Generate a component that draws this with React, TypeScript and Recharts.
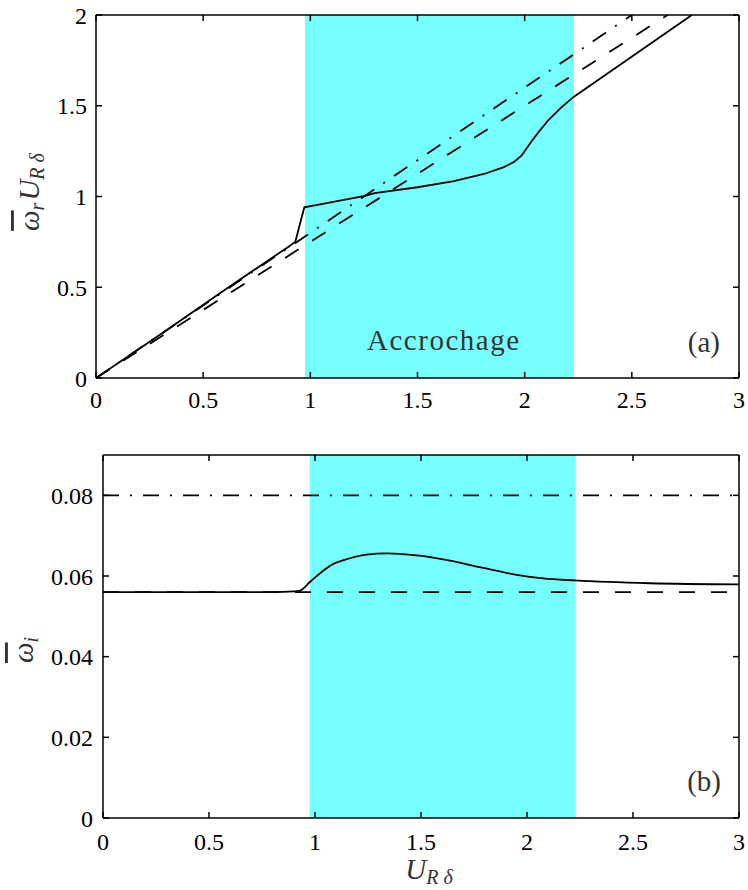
import React from 'react';
import { LineChart, Line, XAxis, YAxis, ReferenceArea } from 'recharts';

// U_Rdelta axis, shared by both panels
const xTicks = [0, 0.5, 1, 1.5, 2, 2.5, 3];
const freqTicks = [0, 0.5, 1, 1.5, 2];
const growthTicks = [0, 0.02, 0.04, 0.06, 0.08];
// lock-in ("Accrochage") band
const lockIn = [0.975, 2.23];

// (a) frequency, coupled model (solid)
const freqCoupled = [
  { u: 0, w: 0 },
  { u: 0.3, w: 0.24 },
  { u: 0.6, w: 0.485 },
  { u: 0.9, w: 0.725 },
  { u: 0.93, w: 0.751 },
  { u: 0.972, w: 0.94 },
  { u: 1.107, w: 0.971 },
  { u: 1.255, w: 1.003 },
  { u: 1.3, w: 1.018 },
  { u: 1.5, w: 1.051 },
  { u: 1.67, w: 1.085 },
  { u: 1.81, w: 1.124 },
  { u: 1.9, w: 1.16 },
  { u: 1.95, w: 1.19 },
  { u: 1.985, w: 1.225 },
  { u: 2.03, w: 1.3 },
  { u: 2.065, w: 1.355 },
  { u: 2.11, w: 1.42 },
  { u: 2.17, w: 1.49 },
  { u: 2.23, w: 1.55 },
  { u: 2.78, w: 2.0 },
];
// (a) uncoupled references
const freqDashed = [
  { u: 0, w: 0 },
  { u: 2.667, w: 2 },
];
const freqDashDot = [
  { u: 0, w: 0 },
  { u: 2.5, w: 2 },
];

// (b) growth rate, coupled model (solid)
const growthCoupled = [
  { u: 0, w: 0.056 },
  { u: 0.5, w: 0.056 },
  { u: 0.8, w: 0.056 },
  { u: 0.9, w: 0.0562 },
  { u: 0.929, w: 0.0564 },
  { u: 0.976, w: 0.0585 },
  { u: 1.024, w: 0.0607 },
  { u: 1.087, w: 0.063 },
  { u: 1.165, w: 0.0644 },
  { u: 1.244, w: 0.0653 },
  { u: 1.34, w: 0.0656 },
  { u: 1.48, w: 0.0651 },
  { u: 1.637, w: 0.0638 },
  { u: 1.794, w: 0.062 },
  { u: 1.951, w: 0.0603 },
  { u: 2.077, w: 0.0594 },
  { u: 2.226, w: 0.0589 },
  { u: 2.58, w: 0.0582 },
  { u: 3.0, w: 0.0579 },
];
const growthDashed = [
  { u: 0, w: 0.056 },
  { u: 3, w: 0.056 },
];
const growthDashDot = [
  { u: 0, w: 0.08 },
  { u: 3, w: 0.08 },
];

const SERIF = 'Liberation Serif';
const CYAN = '#76ffff';
const DASH = '16 16';
const DASHDOT = '16 11 2 11';

const tickFont = { fontSize: 24, fill: '#000', fontFamily: SERIF };

type Pt = { u: number; w: number };

interface PanelProps {
  solid: Pt[];
  solidCurve: 'linear' | 'monotone';
  dashed: Pt[];
  dashDot: Pt[];
  yDomain: [number, number];
  yTicks: number[];
  leftWidth: number;
  height: number;
  bottomMargin: number;
  xTickMargin: number;
  yTickMargin: number;
}

const Panel = ({ solid, solidCurve, dashed, dashDot, yDomain, yTicks, leftWidth, height, bottomMargin, xTickMargin, yTickMargin }: PanelProps) => (
  <LineChart width={748} height={height} margin={{ top: 14, right: 8, left: 0, bottom: bottomMargin }}>
    <XAxis
      xAxisId="b"
      type="number"
      dataKey="u"
      domain={[0, 3]}
      ticks={xTicks}
      allowDataOverflow
      height={40}
      tickSize={-6}
      tickMargin={xTickMargin}
      tick={tickFont}
      stroke="#000"
      strokeWidth={1.5}
    />
    <XAxis
      xAxisId="t"
      orientation="top"
      type="number"
      dataKey="u"
      domain={[0, 3]}
      ticks={xTicks}
      allowDataOverflow
      height={1}
      tickSize={-6}
      tickFormatter={() => ''}
      stroke="#000"
      strokeWidth={1.5}
    />
    <YAxis
      yAxisId="l"
      type="number"
      domain={yDomain}
      ticks={yTicks}
      allowDataOverflow
      width={leftWidth}
      tickSize={-6}
      tickMargin={yTickMargin}
      tick={tickFont}
      stroke="#000"
      strokeWidth={1.5}
    />
    <YAxis
      yAxisId="r"
      orientation="right"
      type="number"
      domain={yDomain}
      ticks={yTicks}
      allowDataOverflow
      width={1}
      tickSize={-6}
      tickFormatter={() => ''}
      stroke="#000"
      strokeWidth={1.5}
    />
    <ReferenceArea xAxisId="b" yAxisId="l" x1={lockIn[0]} x2={lockIn[1]} fill={CYAN} fillOpacity={1} stroke="none" />
    <Line xAxisId="b" yAxisId="l" data={dashDot} dataKey="w" type="linear" stroke="#000" strokeWidth={1.8}
      strokeDasharray={DASHDOT} dot={false} activeDot={false} isAnimationActive={false} />
    <Line xAxisId="b" yAxisId="l" data={dashed} dataKey="w" type="linear" stroke="#000" strokeWidth={1.8}
      strokeDasharray={DASH} dot={false} activeDot={false} isAnimationActive={false} />
    <Line xAxisId="b" yAxisId="l" data={solid} dataKey="w" type={solidCurve} stroke="#000" strokeWidth={1.8}
      dot={false} activeDot={false} isAnimationActive={false} />
  </LineChart>
);

const INK = '#333';

export default function App() {
  return (
    <div style={{ position: 'absolute', left: 0, top: 0, width: 748, height: 890, background: '#fff' }}>
      <div style={{ position: 'absolute', left: 0, top: 0 }}>
        <Panel solid={freqCoupled} solidCurve="linear" dashed={freqDashed} dashDot={freqDashDot} yDomain={[0, 2]} yTicks={freqTicks}
          leftWidth={96} height={440} bottomMargin={22} xTickMargin={19} yTickMargin={15} />
      </div>
      <div style={{ position: 'absolute', left: 0, top: 440 }}>
        <Panel solid={growthCoupled} solidCurve="monotone" dashed={growthDashed} dashDot={growthDashDot} yDomain={[0, 0.09]} yTicks={growthTicks}
          leftWidth={103} height={450} bottomMargin={32} xTickMargin={21} yTickMargin={16} />
      </div>
      <svg width={748} height={890} style={{ position: 'absolute', left: 0, top: 0, pointerEvents: 'none' }}>
        <text x={39} y={192} transform="rotate(-90 39 192)" textAnchor="middle" fontFamily={SERIF} fill={INK} fontSize={29}>
          <tspan fontStyle="italic" textDecoration="overline">ω</tspan>
          <tspan fontStyle="italic" fontSize={20} dy={5}>r</tspan>
          <tspan fontStyle="italic" dy={-5} dx={2}>U</tspan>
          <tspan fontStyle="italic" fontSize={20} dy={5}>R δ</tspan>
        </text>
        <text x={33} y={650} transform="rotate(-90 33 650)" textAnchor="middle" fontFamily={SERIF} fill={INK} fontSize={29}>
          <tspan fontStyle="italic" textDecoration="overline">ω</tspan>
          <tspan fontStyle="italic" fontSize={20} dy={5}>i</tspan>
        </text>
        <text x={429} y={879} textAnchor="middle" fontFamily={SERIF} fill={INK} fontSize={29}>
          <tspan fontStyle="italic">U</tspan>
          <tspan fontStyle="italic" fontSize={20} dy={5}>R δ</tspan>
        </text>
        <text x={367} y={350} fontFamily={SERIF} fill={INK} fontSize={29} textLength={152} lengthAdjust="spacing">Accrochage</text>
        <text x={720} y={352} textAnchor="end" fontFamily={SERIF} fill={INK} fontSize={29}>(a)</text>
        <text x={721} y={791} textAnchor="end" fontFamily={SERIF} fill={INK} fontSize={29}>(b)</text>
      </svg>
    </div>
  );
}
